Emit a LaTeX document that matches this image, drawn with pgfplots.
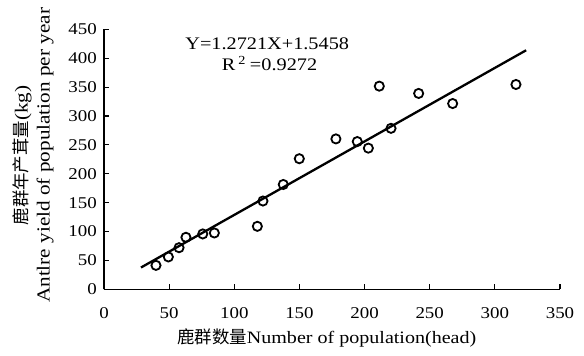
\documentclass[border=0pt]{standalone}
\usepackage{fontspec}
\setmainfont[FakeStretch=1.15]{Liberation Serif}
\newfontfamily\cjk{Noto Sans CJK SC}
\usepackage{pgfplots}
\pgfplotsset{compat=1.18}
\begin{document}
\begin{tikzpicture}
\path[use as bounding box] (-104bp,-66.7bp) rectangle (480bp,289.3bp);
\begin{axis}[
  at={(0,0)}, anchor=south west,
  scale only axis, width=456bp, height=260bp,
  xmin=0, xmax=350, ymin=0, ymax=450,
  axis lines*=left,
  axis line style={line width=1.4bp},
  xtick={0,50,...,350}, ytick={0,50,...,450},
  tick align=inside, major tick length=5bp,
  tick style={line width=1.1bp, black},
  /pgf/number format/assume math mode=true,
  ticklabel style={font=\fontsize{16.5}{20}\selectfont, inner sep=0pt},
  xticklabel style={yshift=-18bp},
  yticklabel style={xshift=-7bp},
  xlabel={{\cjk\fontsize{17.5}{20}\selectfont 鹿群数量}Number of population(head)},
  xlabel style={font=\fontsize{17.5}{20}\selectfont, at={(axis description cs:0.16,0)}, anchor=base west, yshift=-54bp, inner sep=0pt},
  ylabel={{\cjk\fontsize{17.5}{20}\selectfont 鹿群年产茸量}(kg)\\Antlre yield of population per year},
  ylabel style={font=\fontsize{18.5}{22}\selectfont, at={(axis description cs:-0.11,0.515)}, anchor=south, align=center, inner sep=0pt},
]
\addplot[only marks, mark=o, mark size=4.6bp, mark options={line width=1.8bp, black}] coordinates {
(39.9,41.4)(49.4,56)(57.6,72)(62.9,90)(75.8,95.8)(84.7,97.5)(117.7,109)(122,152.8)(137.6,181.4)(149.9,226)(178,260.3)(194.4,255.7)(202.9,244.3)(211.3,351.6)(220.3,278.6)(241.5,339)(267.6,321.5)(316.2,354.5)
};
\addplot[no marks, line width=2.3bp, black] coordinates {(28.4,37.7)(324,413.7)};
\node[anchor=base west, inner sep=0pt, font=\fontsize{17.7}{20}\selectfont] at (rel axis cs:0.178,0.924) {Y=1.2721X+1.5458};
\node[anchor=base west, inner sep=0pt, font=\fontsize{17.7}{20}\selectfont] at (rel axis cs:0.258,0.841) {R\hspace{3bp}\textsuperscript{2}\hspace{4bp}=0.9272};
\end{axis}
\end{tikzpicture}
\end{document}
